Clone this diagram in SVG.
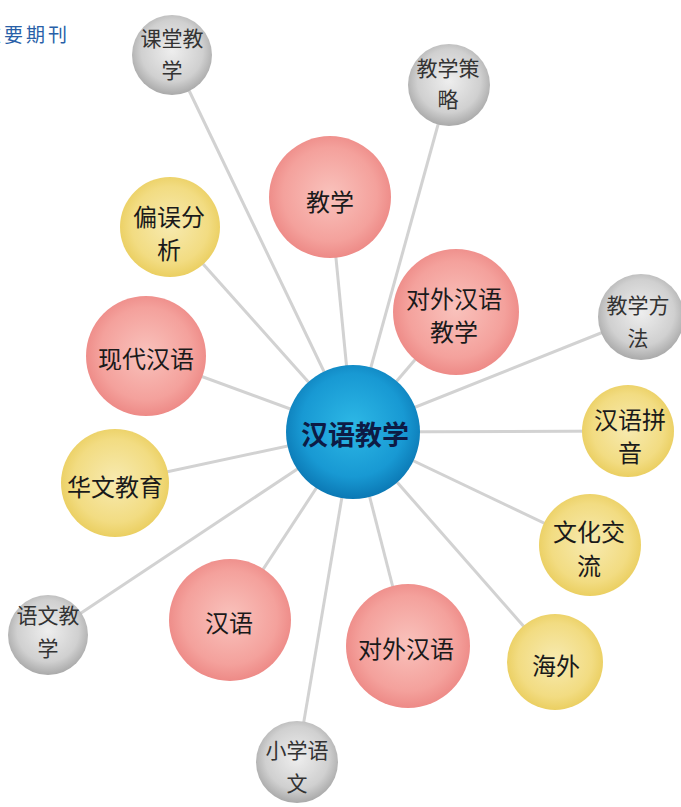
<svg xmlns="http://www.w3.org/2000/svg" width="681" height="807" viewBox="0 0 681 807">
<defs>
<radialGradient id="gPink" cx="50%" cy="48%" r="55%">
<stop offset="0" stop-color="#f9c2bc"/>
<stop offset="0.7" stop-color="#f4a19c"/>
<stop offset="1" stop-color="#ec8582"/>
</radialGradient>
<radialGradient id="gYellow" cx="50%" cy="48%" r="55%">
<stop offset="0" stop-color="#f7eab0"/>
<stop offset="0.7" stop-color="#f2dc82"/>
<stop offset="1" stop-color="#e9cc5a"/>
</radialGradient>
<radialGradient id="gGray" cx="50%" cy="45%" r="55%">
<stop offset="0" stop-color="#eeeeee"/>
<stop offset="0.7" stop-color="#d0d0d0"/>
<stop offset="1" stop-color="#a9a9a9"/>
</radialGradient>
<radialGradient id="gBlue" cx="50%" cy="45%" r="55%">
<stop offset="0" stop-color="#2db8e6"/>
<stop offset="0.7" stop-color="#1899d3"/>
<stop offset="1" stop-color="#0b78b4"/>
</radialGradient>
</defs>
<style>
.edge{stroke:#d2d2d2;stroke-width:3;fill:none}
.t{font-family:"Noto Sans CJK SC","Noto Sans CJK JP",sans-serif;text-anchor:middle;dominant-baseline:central;fill:#1a1a1a}
.big{font-size:24px}
.small{font-size:21px;fill:#333}
.center{font-size:27px;font-weight:bold;fill:#0d1b45}
.pink{fill:url(#gPink)}
.yellow{fill:url(#gYellow)}
.gray{fill:url(#gGray)}
.blue{fill:url(#gBlue)}
</style>
<rect width="681" height="807" fill="#ffffff"/>
<text x="-18" y="33" font-family="Noto Sans CJK SC,sans-serif" font-size="19" letter-spacing="3" fill="#285fa8" dominant-baseline="central">重要期刊</text>
<g id="edges">
<line class="edge" x1="353" y1="432" x2="172" y2="55"/>
<line class="edge" x1="353" y1="432" x2="449" y2="85"/>
<line class="edge" x1="353" y1="432" x2="330" y2="197"/>
<line class="edge" x1="353" y1="432" x2="456" y2="312"/>
<line class="edge" x1="353" y1="432" x2="170" y2="227"/>
<line class="edge" x1="353" y1="432" x2="146" y2="356"/>
<line class="edge" x1="353" y1="432" x2="641" y2="317"/>
<line class="edge" x1="353" y1="432" x2="628" y2="431"/>
<line class="edge" x1="353" y1="432" x2="115" y2="483"/>
<line class="edge" x1="353" y1="432" x2="590" y2="545"/>
<line class="edge" x1="353" y1="432" x2="48" y2="635"/>
<line class="edge" x1="353" y1="432" x2="230" y2="620"/>
<line class="edge" x1="353" y1="432" x2="408" y2="646"/>
<line class="edge" x1="353" y1="432" x2="555" y2="662"/>
<line class="edge" x1="353" y1="432" x2="297" y2="762"/>
</g>
<g id="n-ketang"><circle class="gray" cx="172" cy="55" r="40"/><text class="t small" x="172" y="37">课堂教</text><text class="t small" x="172" y="69">学</text></g>
<g id="n-celue"><circle class="gray" cx="449" cy="85" r="41"/><text class="t small" x="448" y="67">教学策</text><text class="t small" x="448" y="98">略</text></g>
<g id="n-jiaoxue"><circle class="pink" cx="330" cy="197" r="61"/><text class="t big" x="330" y="200">教学</text></g>
<g id="n-duiwaijiaoxue"><circle class="pink" cx="456" cy="312" r="63"/><text class="t big" x="454" y="297">对外汉语</text><text class="t big" x="454" y="330">教学</text></g>
<g id="n-pianwu"><circle class="yellow" cx="170" cy="227" r="50"/><text class="t big" x="169" y="215">偏误分</text><text class="t big" x="169" y="248">析</text></g>
<g id="n-xiandai"><circle class="pink" cx="146" cy="356" r="60"/><text class="t big" x="146" y="357">现代汉语</text></g>
<g id="n-fangfa"><circle class="gray" cx="641" cy="317" r="43"/><text class="t small" x="638" y="304">教学方</text><text class="t small" x="638" y="337">法</text></g>
<g id="n-pinyin"><circle class="yellow" cx="628" cy="431" r="46"/><text class="t big" x="630" y="418">汉语拼</text><text class="t big" x="630" y="451">音</text></g>
<g id="n-huawen"><circle class="yellow" cx="115" cy="483" r="54"/><text class="t big" x="115" y="485">华文教育</text></g>
<g id="n-wenhua"><circle class="yellow" cx="590" cy="545" r="51"/><text class="t big" x="589" y="530">文化交</text><text class="t big" x="589" y="564">流</text></g>
<g id="n-yuwen"><circle class="gray" cx="48" cy="635" r="40"/><text class="t small" x="48" y="614">语文教</text><text class="t small" x="48" y="647">学</text></g>
<g id="n-hanyu"><circle class="pink" cx="230" cy="620" r="61"/><text class="t big" x="229" y="621">汉语</text></g>
<g id="n-duiwai"><circle class="pink" cx="408" cy="646" r="62"/><text class="t big" x="406" y="647">对外汉语</text></g>
<g id="n-haiwai"><circle class="yellow" cx="555" cy="662" r="48"/><text class="t big" x="556" y="664">海外</text></g>
<g id="n-xiaoxue"><circle class="gray" cx="297" cy="762" r="41"/><text class="t small" x="297" y="749">小学语</text><text class="t small" x="297" y="782">文</text></g>
<g id="n-center"><circle class="blue" cx="353" cy="432" r="67"/><text class="t center" x="355" y="433">汉语教学</text></g>
</svg>
